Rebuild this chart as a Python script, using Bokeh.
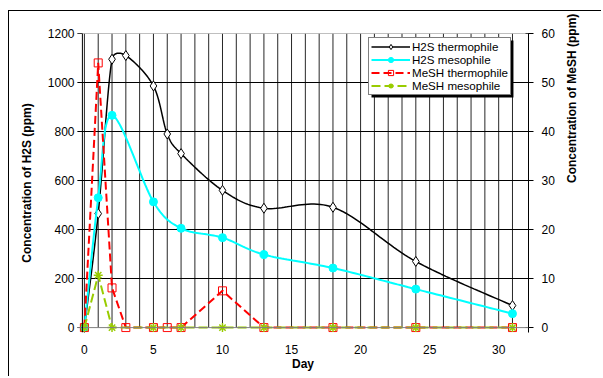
import math
from bokeh.plotting import figure
from bokeh.models import (Range1d, LinearAxis, FixedTicker, Legend, LegendItem,
                          BoxAnnotation, Span)
from bokeh.embed import file_html
from bokeh.resources import INLINE

# ---------------- data ----------------
days_h2s_thermo = [0, 1, 2, 3, 5, 6, 7, 10, 13, 18, 24, 31]
h2s_thermo = [0, 465, 1095, 1110, 986, 790, 710, 560, 487, 491, 270, 90]

days_h2s_meso = [0, 1, 2, 5, 7, 10, 13, 18, 24, 31]
h2s_meso = [0, 530, 866, 513, 405, 367, 298, 243, 157, 57]

days_mesh_thermo = [0, 1, 2, 3, 5, 6, 7, 10, 13, 18, 24, 31]
mesh_thermo = [0, 54, 8.1, 0, 0, 0, 0, 7.5, 0, 0, 0, 0]

days_mesh_meso = [0, 1, 2, 5, 7, 10, 13, 18, 24, 31]
mesh_meso = [0, 10.7, 0, 0, 0, 0, 0, 0, 0, 0]

left_ticks = [0, 200, 400, 600, 800, 1000, 1200]
right_ticks = [0, 10, 20, 30, 40, 50, 60]
x_ticks = [0, 5, 10, 15, 20, 25, 30]
grid_days = list(range(0, 32))

FONT = "Liberation Sans"

# pixel scale used for Excel-like smoothing
SX = 428 / 31.0
SY = 294 / 1200.0


def excel_smooth(xs, ys, n=24):
    P = [(x * SX, y * SY) for x, y in zip(xs, ys)]
    outx, outy = [], []
    m = len(P)

    def dist(a, b):
        return math.hypot(b[0] - a[0], b[1] - a[1])

    for i in range(m - 1):
        p0 = P[i - 1] if i > 0 else P[i]
        p1 = P[i]
        p2 = P[i + 1]
        p3 = P[i + 2] if i + 2 < m else P[i + 1]
        d12 = dist(p1, p2)
        d02 = dist(p0, p2)
        d13 = dist(p1, p3)
        f1 = 1 / 6 if d02 / 6 < d12 / 2 else (d12 / 2) / d02
        f2 = 1 / 6 if d13 / 6 < d12 / 2 else (d12 / 2) / d13
        c1 = (p1[0] + (p2[0] - p0[0]) * f1, p1[1] + (p2[1] - p0[1]) * f1)
        c2 = (p2[0] - (p3[0] - p1[0]) * f2, p2[1] - (p3[1] - p1[1]) * f2)
        for k in range(n + (1 if i == m - 2 else 0)):
            t = k / n
            a = (1 - t) ** 3
            b = 3 * (1 - t) ** 2 * t
            c = 3 * (1 - t) * t ** 2
            d = t ** 3
            outx.append((a * p1[0] + b * c1[0] + c * c2[0] + d * p2[0]) / SX)
            outy.append((a * p1[1] + b * c1[1] + c * c2[1] + d * p2[1]) / SY)
    return outx, outy


p = figure(width=593, height=366, output_backend="svg", toolbar_location=None,
           x_range=Range1d(-0.5, 32.16), y_range=Range1d(-20, 1200),
           min_border_left=68, min_border_right=74, min_border_top=22,
           min_border_bottom=45)
p.extra_y_ranges = {"mesh": Range1d(-1, 60)}
p.outline_line_color = None
p.background_fill_color = "white"
p.border_fill_color = "white"

# grid
p.xgrid.visible = False
p.ygrid.ticker = FixedTicker(ticks=left_ticks[1:])
p.ygrid.grid_line_color = "black"
p.ygrid.grid_line_width = 1
p.segment(x0=grid_days, y0=[0] * len(grid_days), x1=grid_days,
          y1=[1200] * len(grid_days), line_color="black", line_width=1,
          line_alpha=0.85)
p.add_layout(Span(location=0, dimension="width", line_color="#808080", line_width=1))
p.add_layout(Span(location=1200, dimension="width", line_color="#808080", line_width=1))
p.add_layout(Span(location=-0.145, dimension="height", line_color="black", line_width=1))

# axes
p.xaxis.ticker = FixedTicker(ticks=x_ticks)
p.xaxis.axis_line_color = None
p.xaxis.major_tick_line_color = None
p.xaxis.minor_tick_line_color = None
p.xaxis.major_label_standoff = 6
p.xaxis.axis_label = "Day"
p.xaxis.axis_label_standoff = 0

p.yaxis.ticker = FixedTicker(ticks=left_ticks)
p.yaxis.axis_line_color = None
p.yaxis.major_tick_in = 5
p.yaxis.major_tick_out = 0
p.yaxis.minor_tick_line_color = None
p.yaxis.major_label_standoff = 3
p.yaxis.axis_label = "Concentration of H2S (ppm)"
p.yaxis.axis_label_standoff = 11

raxis = LinearAxis(y_range_name="mesh", ticker=FixedTicker(ticks=right_ticks),
                   axis_label="Concentration of MeSH   (ppm)")
raxis.major_tick_in = 3
raxis.major_tick_out = 5
raxis.minor_tick_line_color = None
raxis.axis_line_color = "black"
raxis.major_label_standoff = 8
raxis.axis_label_standoff = 14
raxis.axis_label_orientation = math.pi / 2
p.add_layout(raxis, "right")

for ax in [p.xaxis[0], p.yaxis[0], raxis]:
    ax.major_label_text_font = FONT
    ax.major_label_text_font_size = "12px"
    ax.major_label_text_color = "black"
    ax.axis_label_text_font = FONT
    ax.axis_label_text_font_size = "12px"
    ax.axis_label_text_font_style = "bold"
    ax.axis_label_text_color = "black"

# series
sx, sy = excel_smooth(days_h2s_thermo, h2s_thermo)
l1 = p.line(sx, sy, line_color="black", line_width=1.5)
m1 = p.scatter(days_h2s_thermo, h2s_thermo, marker="diamond", size=10,
               fill_color="white", line_color="black", line_width=1)

sx2, sy2 = excel_smooth(days_h2s_meso, h2s_meso)
l2 = p.line(sx2, sy2, line_color="#00FFFF", line_width=2)
m2 = p.scatter(days_h2s_meso, h2s_meso, marker="circle", size=8,
               fill_color="#00FFFF", line_color="#00FFFF")

l3 = p.line(days_mesh_thermo, mesh_thermo, y_range_name="mesh",
            line_color="#FF0000", line_width=2, line_dash="8 4")
m3 = p.scatter(days_mesh_thermo, mesh_thermo, y_range_name="mesh",
               marker="square", size=8, fill_color=None,
               line_color="#FF0000", line_width=1)

l4 = p.line(days_mesh_meso, mesh_meso, y_range_name="mesh",
            line_color="#99CC00", line_width=2, line_dash="9 4")
m4 = p.scatter(days_mesh_meso, mesh_meso, y_range_name="mesh",
               marker="asterisk", size=9, line_color="#99CC00", line_width=1.5)

# legend shadow
p.add_layout(BoxAnnotation(left=20.79, right=31.07, bottom=939, top=1171,
                           fill_color="black", fill_alpha=1, line_color=None))

legend = Legend(items=[
    LegendItem(label="H2S thermophile", renderers=[l1, m1]),
    LegendItem(label="H2S mesophile", renderers=[l2, m2]),
    LegendItem(label="MeSH thermophile", renderers=[l3, m3]),
    LegendItem(label="MeSH mesophile", renderers=[l4, m4]),
], location=(291, 237))
legend.label_text_font = FONT
legend.label_text_font_size = "11.6px"
legend.label_text_color = "black"
legend.label_height = 13
legend.glyph_height = 13
legend.glyph_width = 39
legend.label_standoff = 2
legend.spacing = 0
legend.padding = 2
legend.margin = 0
legend.border_line_color = "black"
legend.border_line_width = 1
legend.background_fill_color = "white"
legend.background_fill_alpha = 1
p.add_layout(legend, "center")

p.styles = {"border-left": "1px solid black", "border-top": "1px solid black",
            "margin-left": "8px", "margin-top": "10px"}

open("out.html", "w").write(file_html(p, INLINE))
